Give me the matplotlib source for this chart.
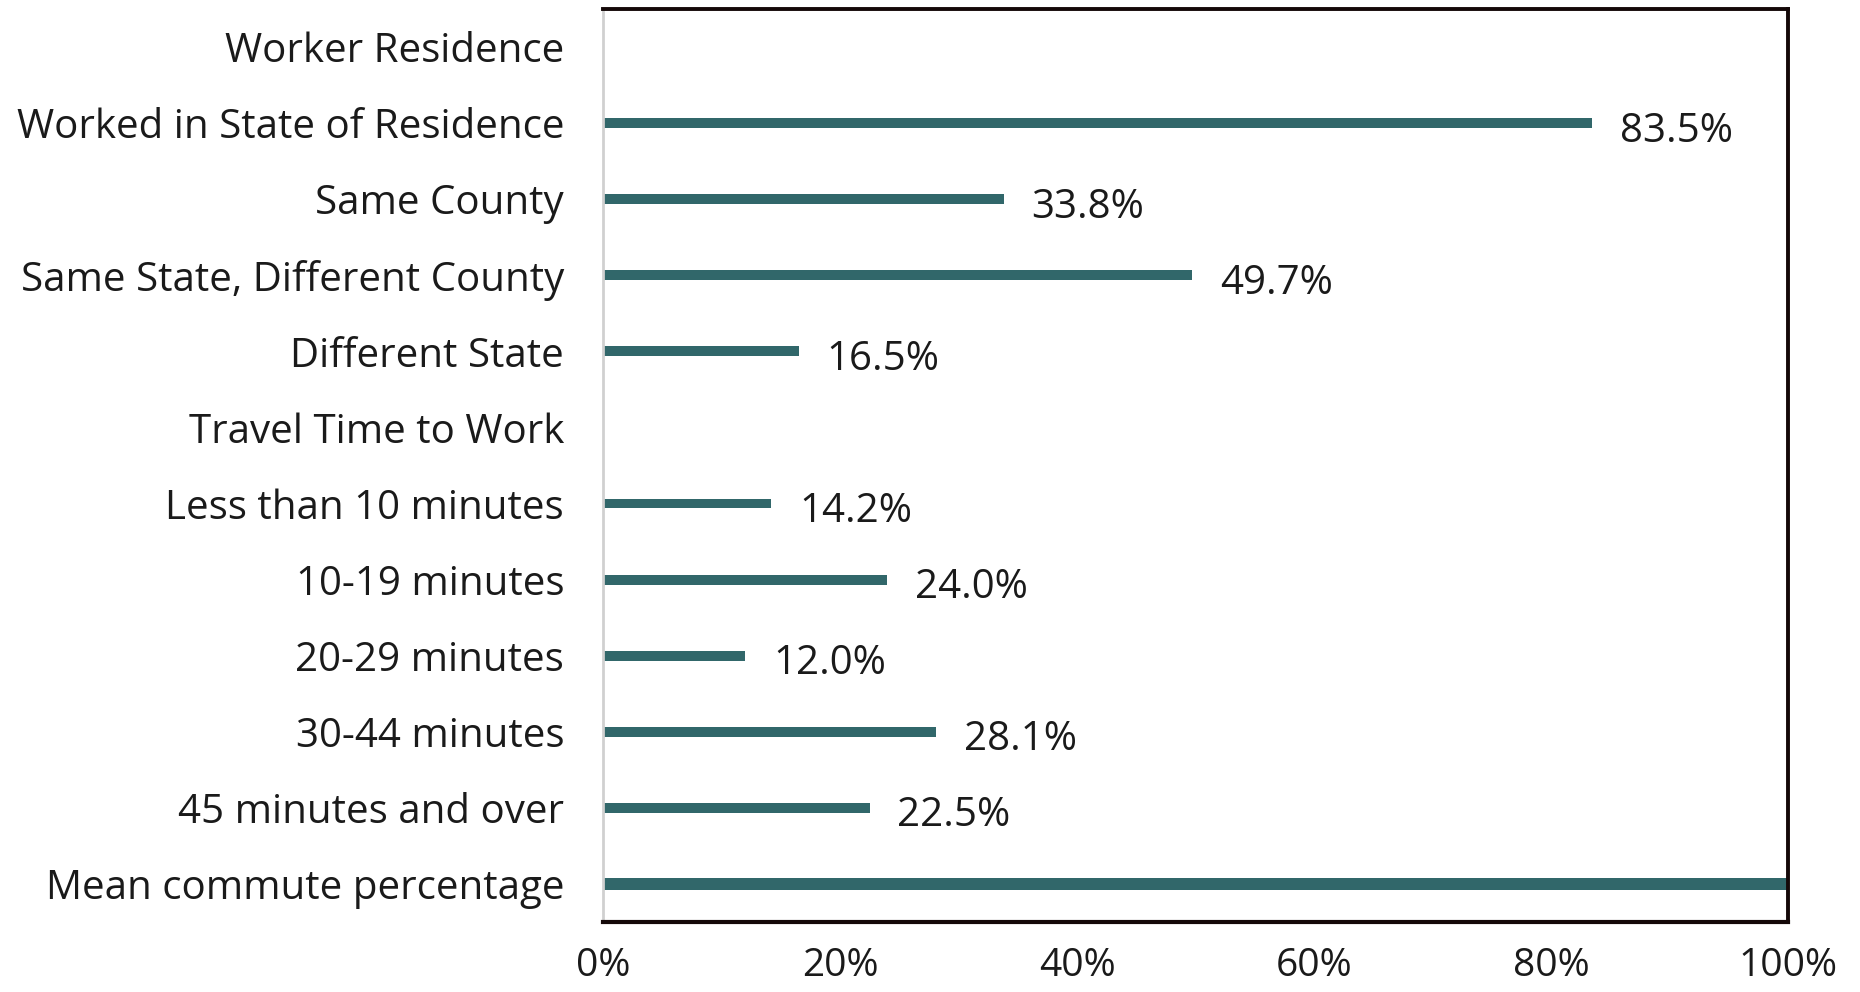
import matplotlib.pyplot as plt
import numpy as np

categories = [
    "Worker Residence",
    "Worked in State of Residence",
    "Same County",
    "Same State, Different County",
    "Different State",
    "Travel Time to Work",
    "Less than 10 minutes",
    "10-19 minutes",
    "20-29 minutes",
    "30-44 minutes",
    "45 minutes and over",
    "Mean commute percentage",
]
# None marks header rows without a bar
values = [None, 83.5, 33.8, 49.7, 16.5, None, 14.2, 24.0, 12.0, 28.1, 22.5, 100.0]
show_label = [False, True, True, True, True, False, True, True, True, True, True, False]
xticks = [0, 20, 40, 60, 80, 100]

bar_color = "#31676a"
text_color = "#1a1a1a"
plt.rcParams["font.family"] = ["Open Sans", "DejaVu Sans"]

fig = plt.figure(figsize=(18.6, 9.92), dpi=100)
ax = fig.add_axes([0.3242, 0.0706, 0.6371, 0.9204])

y = np.arange(len(categories))
for yi, v, lab in zip(y, values, show_label):
    if v is None:
        continue
    h = 0.13 if lab else 0.16
    ax.barh(yi, v / 100, height=h, color=bar_color)
    if lab:
        ax.annotate(f"{v:.1f}%", xy=(v / 100, yi), xytext=(20, -6),
                    textcoords="offset points", ha="left", va="center",
                    fontsize=29, color=text_color)

ax.set_ylim(len(categories) - 0.5, -0.5)
ax.set_xlim(0, 1)
ax.set_yticks(y)
ax.set_yticklabels(categories, fontsize=29, color=text_color)
ax.set_xticks([t / 100 for t in xticks])
ax.set_xticklabels([f"{t}%" for t in xticks], fontsize=28, color=text_color)
ax.tick_params(axis="y", length=0, pad=28)
ax.tick_params(axis="x", length=0, pad=18)

for side in ["top", "right"]:
    ax.spines[side].set_color("#140808")
    ax.spines[side].set_linewidth(2.8)
ax.spines["bottom"].set_color("#140808")
ax.spines["bottom"].set_linewidth(3)
ax.spines["left"].set_color("#d0d0d0")
ax.spines["left"].set_linewidth(2)

fig.savefig("out.png", dpi=100)
